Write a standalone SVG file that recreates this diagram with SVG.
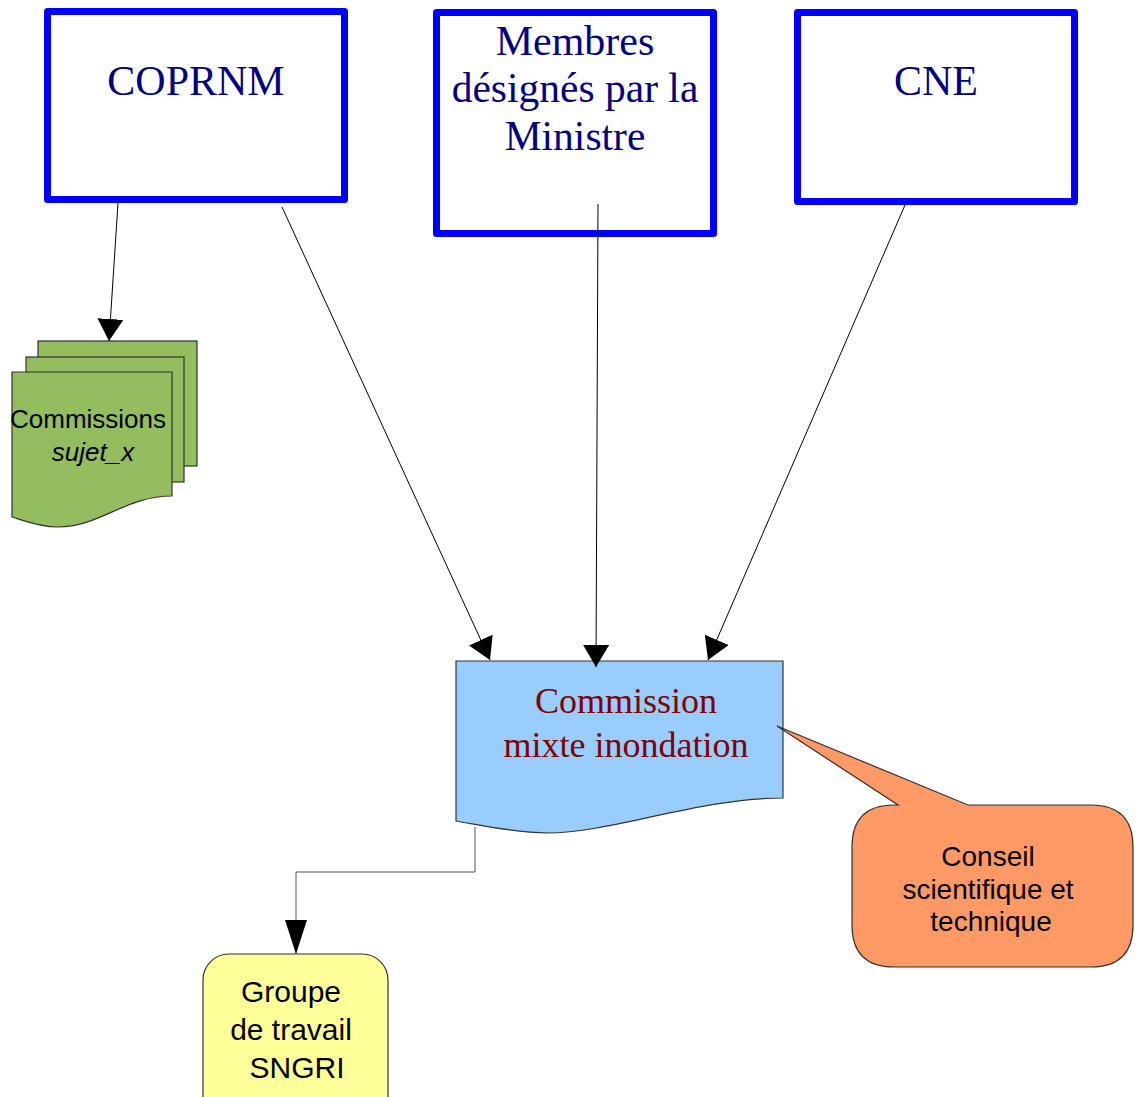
<svg xmlns="http://www.w3.org/2000/svg" width="1136" height="1097" viewBox="0 0 1136 1097">
<style>
.top{fill:#fff;stroke:#0000ff;stroke-width:7;stroke-linejoin:round}
.ttop{font-family:"Liberation Serif",serif;font-size:42px;fill:#000080;text-anchor:middle}
.sans{font-family:"Liberation Sans",sans-serif;fill:#000;text-anchor:middle}
.shape{stroke:#333;stroke-width:1.2}
.conn{fill:none;stroke:#000;stroke-width:1}
</style>
<defs>
<marker id="ah" viewBox="0 0 22 26" refX="22" refY="13" markerWidth="22" markerHeight="26" markerUnits="userSpaceOnUse" orient="auto">
<path d="M0,0 L22,13 L0,26 Z" fill="#000"/>
</marker>
<marker id="ah2" viewBox="0 0 34 22" refX="34" refY="11" markerWidth="34" markerHeight="22" markerUnits="userSpaceOnUse" orient="auto">
<path d="M0,0 L34,11 L0,22 Z" fill="#000"/>
</marker>
</defs>
<rect width="1136" height="1097" fill="#fff"/>
<g id="coprnm">
<rect class="top" x="47.5" y="11.5" width="297" height="188"/>
<text class="ttop" x="196" y="95">COPRNM</text>
</g>
<g id="membres">
<rect class="top" x="436.5" y="12.5" width="277" height="221"/>
<text class="ttop" x="575" y="55" font-size="41.5">Membres</text>
<text class="ttop" x="575" y="102" style="font-size:41.5px">désignés par la</text>
<text class="ttop" x="575" y="150" style="font-size:41.5px">Ministre</text>
</g>
<g id="cne">
<rect class="top" x="797.5" y="12.5" width="277" height="189"/>
<text class="ttop" x="936" y="95">CNE</text>
</g>
<g id="commissions">
<rect class="shape" x="38" y="341" width="159" height="125" fill="#93bd5e"/>
<rect class="shape" x="26" y="357" width="158" height="125" fill="#93bd5e"/>
<path class="shape" d="M12,372 H172 V496 C125,496 100,527 58,527 C40,527 25,521 12,517 Z" fill="#93bd5e"/>
<text class="sans" x="88" y="428" font-size="26">Commissions</text>
<text class="sans" x="93" y="461" font-size="26" font-style="italic">sujet_x</text>
</g>
<g id="commission-mixte">
<path class="shape" d="M456,661 H783 V798 C700,798 610,833 548,833 C515,833 480,825 456,821 Z" fill="#99ccff"/>
<text x="626" y="713" font-family="'Liberation Serif',serif" font-size="36" fill="#800000" text-anchor="middle">Commission</text>
<text x="626" y="757" font-family="'Liberation Serif',serif" font-size="36" fill="#800000" text-anchor="middle">mixte inondation</text>
</g>
<g id="conseil">
<path class="shape" d="M968,805 H1091 Q1133,805 1133,847 V925 Q1133,967 1091,967 H894 Q852,967 852,925 V847 Q852,805 894,805 H898 L777,726 Z" fill="#ff9966"/>
<text class="sans" x="988" y="866" font-size="28">Conseil</text>
<text class="sans" x="988" y="899" font-size="28">scientifique et</text>
<text class="sans" x="991" y="931" font-size="28">technique</text>
</g>
<g id="groupe">
<rect class="shape" x="203" y="954" width="185" height="170" rx="26" ry="26" fill="#ffff99"/>
<text class="sans" x="291" y="1002" font-size="30">Groupe</text>
<text class="sans" x="291" y="1040" font-size="30">de travail</text>
<text class="sans" x="297" y="1078" font-size="30">SNGRI</text>
</g>
<g id="connectors">
<line class="conn" x1="118" y1="203" x2="109" y2="341" marker-end="url(#ah)"/>
<line class="conn" x1="282" y1="207" x2="490" y2="660" marker-end="url(#ah)"/>
<line class="conn" x1="598" y1="204" x2="596" y2="667" marker-end="url(#ah)"/>
<line class="conn" x1="905" y1="205" x2="708" y2="660" marker-end="url(#ah)"/>
<polyline class="conn" points="475,827 475,872 296,872 296,954" style="stroke:#555" marker-end="url(#ah2)"/>
</g>
</svg>
